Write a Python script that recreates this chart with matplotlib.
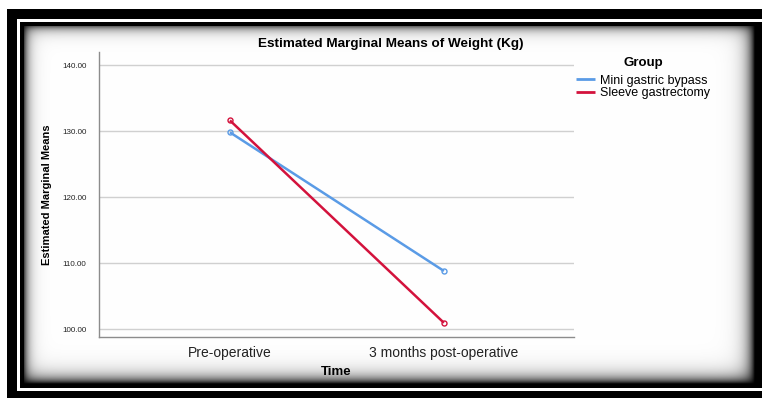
import numpy as np
import matplotlib
matplotlib.use("Agg")
import matplotlib.pyplot as plt

# ---- data ----
time_labels = ["Pre-operative", "3 months post-operative"]
groups = ["Mini gastric bypass", "Sleeve gastrectomy"]
mini_gastric = [129.8, 108.8]
sleeve_gastrectomy = [131.6, 100.95]
y_ticks = [100, 110, 120, 130, 140]

colors = ["#5A9BE6", "#D3123C"]
FONT = ["Liberation Sans", "DejaVu Sans"]
plt.rcParams["font.family"] = FONT

W, H = 762, 398
fig = plt.figure(figsize=(W / 100, H / 100), dpi=100)

# ---- decorative frame (background image) ----
img = np.ones((H, W, 3))
img[9:, 7:] = 0.0            # outer black
img[19:22, 17:] = 1.0        # white thin line top
img[19:391, 17:20] = 1.0     # white thin line left
img[388:391, 17:] = 1.0      # white thin line bottom
img[22:388, 20:] = 0.0       # inner black
yy, xx = np.mgrid[26:384, 24:755]
dl = xx - 24
dt = yy - 26
dr = 754 - xx
db = 383 - yy
v = (1 - 0.7 * np.exp(-dl / 5.0)) * (1 - 0.6 * np.exp(-dt / 5.0)) \
    * (1 - 0.95 * np.exp(-dr / 7.0)) * (1 - 0.95 * np.exp(-db / 7.0))
img[26:384, 24:755] = v[..., None]
fig.figimage(img, xo=0, yo=0, origin="upper", zorder=0)

# ---- main axes ----
ax = fig.add_axes([99 / W, 1 - 337 / H, 475 / W, 285 / H], zorder=1)
ax.set_facecolor("none")
x = np.arange(len(time_labels))
for vals, name, c in zip([mini_gastric, sleeve_gastrectomy], groups, colors):
    ax.plot(x, vals, color=c, lw=1.8, marker="o", ms=3.6, mfc="none",
            mec=c, mew=1.0, label=name, solid_capstyle="butt")

ax.set_xlim(-0.612, 1.608)
ax.set_ylim(98.8, 141.97)
ax.set_yticks(y_ticks)
ax.set_yticklabels([f"{t:.2f}" for t in y_ticks], fontsize=5.8, color="#222222")
ax.set_xticks(x)
ax.set_xticklabels(time_labels, fontsize=10, color="#222222")
ax.tick_params(axis="both", length=0)
ax.tick_params(axis="y", pad=9)
ax.tick_params(axis="x", pad=6.5)
ax.grid(axis="y", color="#D0D0D0", lw=1.0)
ax.set_axisbelow(True)
for s in ["top", "right"]:
    ax.spines[s].set_visible(False)
for s in ["left", "bottom"]:
    ax.spines[s].set_color("#8C8C8C")
    ax.spines[s].set_linewidth(1.0)

ax.set_ylabel("Estimated Marginal Means", fontsize=8, fontweight="bold")
ax.yaxis.set_label_coords(-0.099, 0.5)
ax.set_xlabel("Time", fontsize=9.5, fontweight="bold")
ax.xaxis.set_label_coords(0.5, -0.102)

fig.text(391 / W, 1 - 44 / H, "Estimated Marginal Means of Weight (Kg)",
         ha="center", va="center", fontsize=9.7, fontweight="bold")

fig.text(643 / W, 1 - 63 / H, "Group", ha="center", va="center",
         fontsize=9.5, fontweight="bold")
leg = fig.legend(loc="upper left", bbox_to_anchor=(567 / W, 1 - 66 / H),
                 frameon=False, fontsize=9,
                 handlelength=1.5, handletextpad=0.4, labelspacing=0.05,
                 borderpad=0.2)
for line in leg.get_lines():
    line.set_marker("")
    line.set_linewidth(2.0)

fig.savefig("out.png", dpi=100)
